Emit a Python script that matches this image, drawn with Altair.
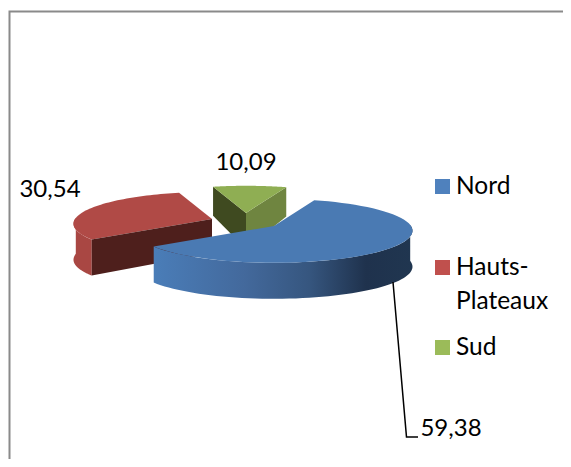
import numpy as np
import pandas as pd
import altair as alt

categories = ["Nord", "Hauts-Plateaux", "Sud"]
values = [59.38, 30.54, 10.09]
value_labels = ["59,38", "30,54", "10,09"]
legend_lines = [["Nord"], ["Hauts-", "Plateaux"], ["Sud"]]
top_colors = ["#4A7AB3", "#B04A46", "#8FAE53"]
legend_colors = ["#4F81BD", "#C0504D", "#9BBB59"]

W, H = 555, 451
OX, OY = 8, 8  # page margin
FIRST_ANGLE = 20.0
RX, RY, PERSP = 137.0, 32.0, 0.15
centers = {"Nord": (274, 226), "Hauts-Plateaux": (212, 219), "Sud": (246, 213)}

xs = alt.Scale(domain=[OX, OX + W], range=[0, W], nice=False, zero=False)
ys = alt.Scale(domain=[OY, OY + H], range=[0, H], nice=False, zero=False)


def depth(v):
    return 36.0 if v >= 0 else 36 * (1 + 0.2 * v)


def project(cx, cy, theta, lower=False):
    t = np.radians(theta)
    u, v = np.sin(t), -np.cos(t)
    s = 1 + PERSP * v
    x = cx + RX * u * s
    y = cy + RY * v * s
    if lower:
        y = y + depth(v)
    return x, y


def arc(cx, cy, a, b, lower=False, n=60):
    return [project(cx, cy, th, lower) for th in np.linspace(a, b, n)]


def poly(points, fill, **kw):
    df = pd.DataFrame(points, columns=["x", "y"])
    df["i"] = range(len(df))
    return alt.Chart(df).mark_line(fill=fill, strokeWidth=0, interpolate="linear", **kw).encode(
        x=alt.X("x:Q", scale=xs, axis=None),
        y=alt.Y("y:Q", scale=ys, axis=None),
        order="i:Q",
    )


total = sum(values)
spans = {}
a = FIRST_ANGLE
for c, v in zip(categories, values):
    b = a + 360 * v / total
    spans[c] = (a, b)
    a = b

# Hauts-Plateaux
cx, cy = centers["Hauts-Plateaux"]
a, b = spans["Hauts-Plateaux"]
bottom_apex = (cx, cy + 34)
red_rim = poly(arc(cx, cy, a, 272) + arc(cx, cy, 272, a, True), "#A94743")
red_top = poly(arc(cx, cy, a, b) + [(cx, cy)], top_colors[1])
red_in = poly([(cx, cy), project(cx, cy, a), project(cx, cy, a, True), bottom_apex], "#4E1F1C")

# Sud
cx, cy = centers["Sud"]
a, b = spans["Sud"]
bottom_apex = (cx, cy + 36)
green_l = poly([(cx, cy), project(cx, cy, a), project(cx, cy, a, True), bottom_apex], "#3F4A20")
green_r = poly([(cx, cy), project(cx, cy, b), project(cx, cy, b, True), bottom_apex], "#6F8540")
green_top = poly(arc(cx, cy, a, b) + [(cx, cy)], top_colors[2])

# Nord
cx, cy = centers["Nord"]
a, b = spans["Nord"]
rim_fill = alt.Gradient(
    gradient="linear", x1=0, x2=1, y1=0, y2=0,
    stops=[
        alt.GradientStop(offset=0, color="#4A7DB8"),
        alt.GradientStop(offset=0.35, color="#43699C"),
        alt.GradientStop(offset=0.6, color="#36567F"),
        alt.GradientStop(offset=0.82, color="#1F324D"),
        alt.GradientStop(offset=1, color="#203650"),
    ],
)
blue_rim = poly(arc(cx, cy, 88, b) + arc(cx, cy, b, 88, True), rim_fill)
blue_top = poly(arc(cx, cy, a, b) + [(cx, cy)], top_colors[0])

# Leader line
leader_df = pd.DataFrame({"x": [393, 406.5, 418], "y": [282, 437, 437], "i": [0, 1, 2]})
leader = alt.Chart(leader_df).mark_line(color="#000000", strokeWidth=1.5).encode(
    x=alt.X("x:Q", scale=xs, axis=None), y=alt.Y("y:Q", scale=ys, axis=None), order="i:Q"
)

# Frame (left and top edges)
frame_df = pd.DataFrame({"x": [9.5, 9.5, 563], "y": [459, 11.5, 11.5], "i": [0, 1, 2]})
frame = alt.Chart(frame_df).mark_line(color="#8A8A8A", strokeWidth=2, clip=False).encode(
    x=alt.X("x:Q", scale=xs, axis=None), y=alt.Y("y:Q", scale=ys, axis=None), order="i:Q"
)

FONT = "Lato"
FS = 24

# Value labels
lab_df = pd.DataFrame({
    "t": value_labels,
    "x": [451, 50, 246],
    "y": [429, 190, 163],
})
labels = alt.Chart(lab_df).mark_text(font=FONT, fontSize=FS, color="#000000", align="center", baseline="middle").encode(
    x=alt.X("x:Q", scale=xs, axis=None), y=alt.Y("y:Q", scale=ys, axis=None), text="t:N"
)

# Legend
sw_y = [186.5, 267.5, 347.5]
sw_df = pd.DataFrame({"c": legend_colors, "x": [442.5] * 3, "y": sw_y})
swatches = alt.Chart(sw_df).mark_square(size=225, opacity=1, filled=True).encode(
    x=alt.X("x:Q", scale=xs, axis=None), y=alt.Y("y:Q", scale=ys, axis=None),
    color=alt.Color("c:N", scale=None),
)
rows = []
for lines, y0 in zip(legend_lines, sw_y):
    for j, line in enumerate(lines):
        rows.append({"t": line, "x": 456, "y": y0 + j * 34})
leg_txt = alt.Chart(pd.DataFrame(rows)).mark_text(font=FONT, fontSize=24.5, color="#000000", align="left", baseline="middle").encode(
    x=alt.X("x:Q", scale=xs, axis=None), y=alt.Y("y:Q", scale=ys, axis=None), text="t:N"
)

chart = alt.layer(
    frame, red_rim, red_top, red_in, green_l, green_r, green_top,
    blue_rim, blue_top, leader, labels, swatches, leg_txt,
).properties(
    width=W, height=H, padding=0,
    autosize=alt.AutoSizeParams(type="none"),
    background="#FFFFFF",
).configure_view(stroke=None)

chart.save("out.html", embed_options={"renderer": "svg", "actions": False})
